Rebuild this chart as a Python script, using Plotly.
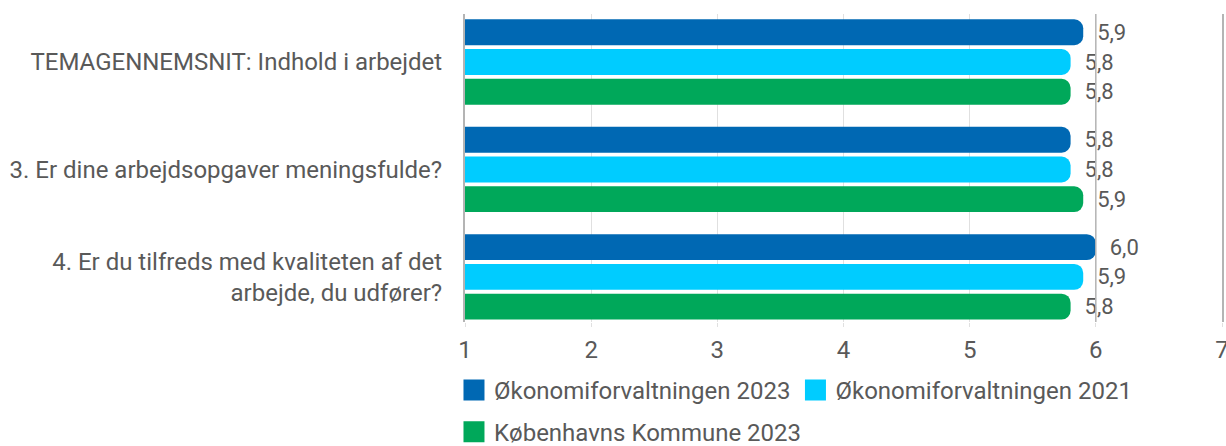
import plotly.graph_objects as go

categories = [
    "TEMAGENNEMSNIT: Indhold i arbejdet",
    "3. Er dine arbejdsopgaver meningsfulde?",
    "4. Er du tilfreds med kvaliteten af det<br>arbejde, du udfører?",
]
series_names = ["Økonomiforvaltningen 2023", "Økonomiforvaltningen 2021", "Københavns Kommune 2023"]
okf_2023 = [5.9, 5.8, 6.0]
okf_2021 = [5.8, 5.8, 5.9]
kk_2023 = [5.8, 5.9, 5.8]
x_ticks = [1, 2, 3, 4, 5, 6, 7]

colors = ["#0068B3", "#00CCFF", "#00A85A"]
font = "Roboto, Arial, sans-serif"
grey_text = "#595959"

fig = go.Figure()
for name, vals, col in zip(series_names, [okf_2023, okf_2021, kk_2023], colors):
    fig.add_trace(go.Bar(
        y=categories, x=vals, orientation="h", name=name,
        marker=dict(color=col, line=dict(width=0)),
        texttemplate="\u00a0\u00a0%{x:.1f}", textposition="outside",
        textfont=dict(size=22, color=grey_text, family=font),
        cliponaxis=False, showlegend=False,
    ))

# legend swatches (first two on one row, the third on its own row)
for i, (name, col) in enumerate(zip(series_names, colors)):
    fig.add_trace(go.Scatter(
        x=[None], y=[None], mode="markers", name=name,
        marker=dict(symbol="square", size=16, color=col, line=dict(color=col, width=5)),
        legend="legend" if i < 2 else "legend2",
    ))

# darker reference line at 6 (the line at 7 is the mirrored axis line)
fig.add_vline(x=x_ticks[-2], line=dict(color="#b4b4b4", width=1.5), layer="above")

legend_style = dict(
    orientation="h", xref="container", yref="container",
    x=0.3703, xanchor="left", yanchor="middle",
    font=dict(size=24, color=grey_text, family=font),
    itemwidth=30, bgcolor="rgba(0,0,0,0)",
)

fig.update_layout(
    width=1226, height=446,
    barmode="group", bargap=0.17, bargroupgap=0.13,
    barcornerradius=9,
    separators=",.",
    plot_bgcolor="white", paper_bgcolor="white",
    font=dict(family=font, color=grey_text),
    margin=dict(l=465, r=4, t=14, b=124),
    xaxis=dict(
        range=[1, 7], tickvals=x_ticks, showgrid=True, gridcolor="#e0e0e0",
        zeroline=False, ticks="outside", ticklen=4, tickcolor="#e0e0e0",
        ticklabelstandoff=2, ticklabeloverflow="allow", automargin=False,
        tickfont=dict(size=24, color=grey_text, family=font),
    ),
    yaxis=dict(
        autorange=False, range=[2.42, -0.447], showline=True, mirror=True,
        linecolor="#b4b4b4", linewidth=2, ticks="", ticklabelstandoff=16,
        automargin=False,
        tickfont=dict(size=24, color=grey_text, family=font),
    ),
    legend=dict(y=0.1244, **legend_style),
    legend2=dict(y=0.031, **legend_style),
)

# drop the default 8px body margin so the figure sits at the page origin
fig.write_html(
    "out.html",
    config={"displayModeBar": False},
    post_script="document.body.style.margin = '0';",
)
